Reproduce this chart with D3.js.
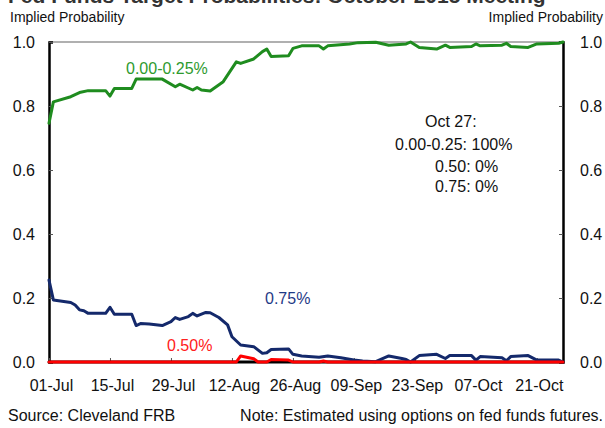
<!DOCTYPE html>
<html>
<head>
<meta charset="utf-8">
<script src="https://cdn.jsdelivr.net/npm/d3@7"></script>
<style>
  html, body { margin: 0; padding: 0; background: #fff; }
  svg { display: block; font-family: Arial, "Liberation Sans", sans-serif; }
</style>
</head>
<body>
<svg id="chart" width="605" height="428"></svg>
<script>
// ---------------- DATA ----------------
const titleText = "Fed Funds Target Probabilities: October 2015 Meeting";
const yTicks = [0, 0.2, 0.4, 0.6, 0.8, 1.0];
const xTickDates = ["2015-07-01","2015-07-15","2015-07-29","2015-08-12","2015-08-26","2015-09-09","2015-09-23","2015-10-07","2015-10-21"];
const xTickLabels = ["01-Jul","15-Jul","29-Jul","12-Aug","26-Aug","09-Sep","23-Sep","07-Oct","21-Oct"];

// 0.00-0.25%
const greenDates = ["2015-07-01","2015-07-02","2015-07-06","2015-07-08","2015-07-10","2015-07-14","2015-07-15","2015-07-16","2015-07-20","2015-07-21","2015-07-27","2015-07-30","2015-07-31","2015-08-03","2015-08-04","2015-08-05","2015-08-07","2015-08-10","2015-08-13","2015-08-14","2015-08-17","2015-08-19","2015-08-20","2015-08-21","2015-08-25","2015-08-26","2015-08-28","2015-09-01","2015-09-02","2015-09-03","2015-09-08","2015-09-10","2015-09-14","2015-09-17","2015-09-21","2015-09-22","2015-09-24","2015-09-28","2015-09-30","2015-10-01","2015-10-06","2015-10-07","2015-10-08","2015-10-13","2015-10-14","2015-10-15","2015-10-19","2015-10-21","2015-10-26","2015-10-27"];
const greenValues = [0.746,0.813,0.829,0.842,0.848,0.848,0.831,0.855,0.855,0.884,0.884,0.860,0.868,0.850,0.858,0.850,0.847,0.876,0.938,0.933,0.947,0.970,0.978,0.955,0.957,0.980,0.988,0.988,0.978,0.988,0.994,0.998,0.999,0.990,0.994,1.000,0.983,0.978,0.990,0.983,0.986,0.994,0.988,0.990,0.996,0.986,0.983,0.994,0.996,1.000];

// 0.75%
const blueDates = ["2015-07-01","2015-07-02","2015-07-06","2015-07-07","2015-07-08","2015-07-09","2015-07-10","2015-07-14","2015-07-15","2015-07-16","2015-07-20","2015-07-21","2015-07-22","2015-07-24","2015-07-27","2015-07-29","2015-07-30","2015-07-31","2015-08-02","2015-08-03","2015-08-04","2015-08-06","2015-08-07","2015-08-09","2015-08-11","2015-08-12","2015-08-14","2015-08-17","2015-08-19","2015-08-20","2015-08-21","2015-08-25","2015-08-26","2015-08-28","2015-09-01","2015-09-03","2015-09-06","2015-09-09","2015-09-11","2015-09-14","2015-09-17","2015-09-20","2015-09-21","2015-09-22","2015-09-24","2015-09-28","2015-09-30","2015-10-01","2015-10-06","2015-10-07","2015-10-08","2015-10-13","2015-10-14","2015-10-15","2015-10-19","2015-10-21","2015-10-26","2015-10-27"];
const blueValues = [0.256,0.194,0.186,0.178,0.163,0.160,0.152,0.152,0.171,0.149,0.149,0.114,0.120,0.119,0.114,0.126,0.139,0.133,0.142,0.152,0.144,0.155,0.154,0.139,0.116,0.079,0.053,0.048,0.027,0.029,0.039,0.041,0.024,0.019,0.015,0.019,0.013,0.006,0.003,0.001,0.019,0.011,0.008,0.000,0.020,0.024,0.011,0.020,0.020,0.006,0.017,0.013,0.004,0.017,0.020,0.006,0.006,0.000];

// 0.50%
const redDates = ["2015-07-01","2015-08-13","2015-08-14","2015-08-17","2015-08-18","2015-08-20","2015-08-21","2015-08-25","2015-08-26","2015-09-01","2015-09-02","2015-09-03","2015-10-27"];
const redValues = [0,0,0.019,0.010,0,0,0.008,0.006,0,0,0.003,0,0];

// other (near zero)
const blackDates = ["2015-07-01","2015-10-27"];
const blackValues = [0, 0];

// ---------------- CHART ----------------
const parse = d3.timeParse("%Y-%m-%d");
const svg = d3.select("#chart");
const m = { left: 49, right: 563, top: 42, bottom: 362 };

const x = d3.scaleTime()
  .domain([parse("2015-07-01"), parse("2015-10-27")])
  .range([m.left, m.right]);
const y = d3.scaleLinear().domain([0, 1]).range([m.bottom, m.top]);

// Title (cut off at top in the reference)
svg.append("text").attr("x", 8).attr("y", 3)
  .attr("font-size", 21).attr("font-weight", "bold").attr("fill", "#333")
  .text(titleText);

svg.append("text").attr("x", 10).attr("y", 22).attr("font-size", 14).attr("fill", "#111")
  .text("Implied Probability");
svg.append("text").attr("x", 603).attr("y", 22).attr("font-size", 14).attr("fill", "#111")
  .attr("text-anchor", "end").text("Implied Probability");

// frame: top grey line
svg.append("line").attr("x1", m.left).attr("x2", m.right).attr("y1", m.top).attr("y2", m.top)
  .attr("stroke", "#b0b0b0").attr("stroke-width", 2);
svg.append("line").attr("x1", m.left).attr("x2", m.right).attr("y1", m.bottom).attr("y2", m.bottom)
  .attr("stroke", "#000").attr("stroke-width", 1.5);

// Left axis
const yAxisL = d3.axisLeft(y).tickValues(yTicks).tickFormat(d3.format(".1f")).tickSize(-4).tickPadding(14);
const gL = svg.append("g").attr("transform", `translate(${m.left},0)`).call(yAxisL);
// Right axis
const yAxisR = d3.axisRight(y).tickValues(yTicks).tickFormat(d3.format(".1f")).tickSize(-4).tickPadding(17);
const gR = svg.append("g").attr("transform", `translate(${m.right},0)`).call(yAxisR);
[gL, gR].forEach(g => {
  g.select(".domain").attr("stroke", "#000").attr("stroke-width", 2.5);
  g.selectAll(".tick line").attr("stroke", "#555");
  g.selectAll(".tick text").attr("font-size", 16).attr("fill", "#111").attr("font-family", "Arial, 'Liberation Sans', sans-serif");
});

// Bottom axis
const xAxis = d3.axisBottom(x)
  .tickValues(xTickDates.map(parse))
  .tickFormat((d, i) => xTickLabels[i])
  .tickSize(-4).tickPadding(18);
const gB = svg.append("g").attr("transform", `translate(0,${m.bottom})`).call(xAxis);
gB.select(".domain").remove();
gB.selectAll(".tick line").attr("stroke", "#555");
gB.selectAll(".tick text").attr("font-size", 16).attr("fill", "#111").attr("font-family", "Arial, 'Liberation Sans', sans-serif")
  .attr("dx", 2);

// lines
const line = d3.line().x(d => x(d[0])).y(d => y(d[1]));
function series(dates, values) { return dates.map((d, i) => [parse(d), values[i]]); }

const lineStyle = (sel, color) => sel.attr("fill", "none").attr("stroke", color)
  .attr("stroke-width", 3).attr("stroke-linejoin", "round").attr("stroke-linecap", "round");

svg.append("path").datum(series(blackDates, blackValues)).attr("d", line).call(lineStyle, "#000");
svg.append("path").datum(series(blueDates, blueValues)).attr("d", line).call(lineStyle, "#14296b");
svg.append("path").datum(series(redDates, redValues)).attr("d", line).call(lineStyle, "#ff0000");
svg.append("path").datum(series(greenDates, greenValues)).attr("d", line).call(lineStyle, "#1f8c1f");

// series labels
svg.append("text").attr("x", 126).attr("y", 74).attr("font-size", 16).attr("fill", "#2e9a2e").text("0.00-0.25%");
svg.append("text").attr("x", 265).attr("y", 304).attr("font-size", 16).attr("fill", "#1f3a86").text("0.75%");
svg.append("text").attr("x", 167).attr("y", 351).attr("font-size", 16).attr("fill", "#ff2020").text("0.50%");

// annotation
const ann = [
  { t: "Oct 27:", x: 425, y: 127 },
  { t: "0.00-0.25: 100%", x: 395, y: 150 },
  { t: "0.50: 0%", x: 435, y: 172 },
  { t: "0.75: 0%", x: 435, y: 192 }
];
svg.selectAll("text.ann").data(ann).join("text").attr("class", "ann")
  .attr("x", d => d.x).attr("y", d => d.y).attr("font-size", 16).attr("fill", "#111").text(d => d.t);

// footer
svg.append("text").attr("x", 8).attr("y", 421).attr("font-size", 16).attr("fill", "#111").text("Source: Cleveland FRB");
svg.append("text").attr("x", 603).attr("y", 421).attr("font-size", 16).attr("fill", "#111")
  .attr("text-anchor", "end").text("Note: Estimated using options on fed funds futures.");
</script>
</body>
</html>
